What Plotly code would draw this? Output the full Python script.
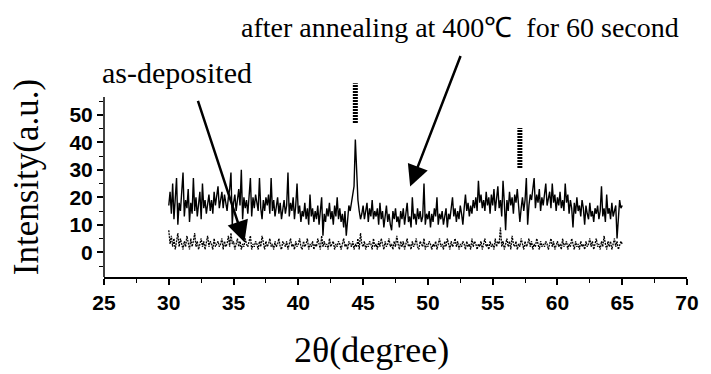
import plotly.graph_objects as go

# ---- data ----
two_theta_start = 30.0
two_theta_step = 0.1

annealed = [
    17, 22, 14, 25, 12, 20, 27, 10, 18, 15,   # 30
    21, 29, 13, 19, 16, 23, 11, 18, 14, 27,   # 31
    15, 20, 13, 17, 22, 12, 25, 16, 19, 14,   # 32
    18, 21, 15, 19, 14, 22, 17, 20, 24, 16,   # 33
    19, 22, 16, 21, 18, 15, 20, 23, 29, 10,   # 34
    18, 21, 15, 19, 23, 17, 30, 12, 20, 16,   # 35
    19, 14, 22, 27, 13, 20, 16, 21, 18, 15,   # 36
    27, 16, 12, 19, 15, 20, 17, 21, 14, 27,   # 37
    15, 19, 13, 17, 20, 14, 18, 12, 16, 19,   # 38
    14, 17, 29, 13, 18, 15, 20, 12, 17, 25,   # 39
    14, 17, 11, 15, 13, 18, 12, 16, 10, 21,   # 40
    13, 16, 11, 15, 12, 17, 10, 14, 20, 6,    # 41
    14, 11, 16, 13, 18, 12, 15, 10, 17, 13,   # 42
    20, 12, 16, 11, 14, 9, 15, 6, 13, 17,     # 43
    15, 18, 21, 24, 41, 26, 19, 15, 12, 14,   # 44
    17, 12, 15, 18, 11, 16, 13, 19, 12, 15,   # 45
    13, 16, 10, 18, 12, 15, 9, 14, 17, 11,    # 46
    14, 10, 8, 15, 12, 16, 11, 13, 9, 15,     # 47
    12, 16, 10, 14, 18, 11, 13, 9, 20, 12,    # 48
    14, 10, 16, 12, 15, 11, 13, 25, 10, 14,   # 49
    12, 15, 9, 14, 11, 16, 13, 20, 10, 14,    # 50
    12, 15, 10, 13, 16, 9, 14, 12, 17, 20,    # 51
    13, 16, 11, 15, 12, 17, 14, 10, 16, 21,   # 52
    15, 18, 13, 17, 14, 19, 16, 20, 15, 26,   # 53
    18, 21, 16, 19, 15, 22, 17, 20, 14, 21,   # 54
    17, 23, 15, 20, 24, 16, 19, 13, 26, 18,   # 55
    8, 19, 15, 22, 17, 20, 14, 21, 18, 23,    # 56
    18, 11, 16, 20, 15, 19, 27, 10, 17, 21,   # 57
    19, 24, 27, 16, 21, 18, 23, 15, 20, 17,   # 58
    21, 25, 17, 19, 22, 16, 25, 18, 21, 15,   # 59
    20, 17, 22, 16, 19, 15, 25, 18, 21, 14,   # 60
    19, 16, 9, 18, 14, 20, 15, 17, 13, 19,    # 61
    16, 10, 17, 14, 12, 18, 13, 15, 11, 16,   # 62
    14, 17, 12, 15, 24, 13, 16, 11, 21, 14,   # 63
    16, 12, 18, 13, 15, 17, 5, 14, 19, 16,    # 64
    17,                                       # 65
]

as_deposited = [
    8, 3, 6, 2, 5, 1, 4, 7, 2, 5,   # 30
    3, 1, 4, 2, 6, 3, 1, 5, 2, 4,   # 31
    7, 2, 4, 1, 3, 5, 2, 4, 1, 3,   # 32
    6, 2, 4, 3, 1, 5, 2, 3, 4, 2,   # 33
    3, 5, 1, 4, 2, 3, 6, 2, 7, 3,   # 34
    4, 1, 3, 5, 2, 4, 1, 3, 2, 5,   # 35
    3, 2, 4, 6, 1, 3, 2, 4, 3, 1,   # 36
    4, 2, 6, 3, 1, 4, 2, 3, 5, 2,   # 37
    3, 1, 4, 2, 3, 5, 2, 1, 4, 3,   # 38
    2, 4, 1, 3, 5, 2, 3, 1, 4, 2,   # 39
    3, 5, 2, 1, 4, 2, 3, 5, 1, 3,   # 40
    2, 4, 1, 3, 2, 5, 3, 1, 6, 2,   # 41
    4, 2, 3, 1, 5, 2, 3, 4, 1, 3,   # 42
    2, 4, 3, 1, 3, 5, 2, 3, 1, 4,   # 43
    3, 2, 4, 1, 3, 2, 5, 1, 7, 3,   # 44
    2, 4, 1, 3, 2, 4, 3, 1, 5, 2,   # 45
    3, 1, 4, 2, 5, 3, 1, 4, 2, 3,   # 46
    5, 2, 3, 1, 4, 2, 6, 3, 1, 4,   # 47
    2, 4, 1, 3, 5, 2, 3, 1, 4, 2,   # 48
    3, 5, 2, 1, 4, 3, 2, 5, 1, 3,   # 49
    2, 4, 3, 1, 3, 2, 4, 1, 3, 5,   # 50
    2, 3, 1, 4, 2, 5, 3, 1, 4, 2,   # 51
    3, 5, 2, 4, 1, 3, 2, 4, 3, 1,   # 52
    4, 2, 3, 1, 5, 2, 4, 3, 1, 3,   # 53
    2, 4, 1, 3, 5, 2, 3, 1, 4, 2,   # 54
    3, 1, 5, 2, 4, 3, 9, 2, 4, 1,   # 55
    3, 5, 2, 4, 1, 6, 3, 2, 4, 1,   # 56
    3, 2, 5, 3, 1, 4, 2, 3, 5, 2,   # 57
    4, 1, 3, 2, 5, 3, 1, 4, 2, 3,   # 58
    2, 4, 3, 1, 3, 5, 2, 4, 1, 3,   # 59
    4, 2, 3, 1, 5, 2, 3, 4, 1, 3,   # 60
    2, 5, 3, 1, 4, 2, 3, 1, 4, 2,   # 61
    3, 1, 4, 2, 3, 5, 2, 4, 1, 3,   # 62
    5, 2, 3, 1, 4, 2, 6, 3, 1, 4,   # 63
    2, 4, 1, 3, 5, 2, 4, 1, 3, 4,   # 64
    3,                              # 65
]

# reference peak markers (2theta, bottom, top)
marker_positions = [44.4, 57.1]
marker_bottoms = [47.0, 30.6]
marker_tops = [61.5, 45.2]

x_tick_vals = [25, 30, 35, 40, 45, 50, 55, 60, 65, 70]
y_tick_vals = [0, 10, 20, 30, 40, 50]
y_minor_vals = [-5, 5, 15, 25, 35, 45, 55]

x_range = [25, 70]
y_range = [-9, 63]
y_axis_top = 56.5

label_annealed = "after annealing at 400\u2103  for 60 second"
label_deposited = "as-deposited"
arrow_annealed_tip = (48.63, 23.9)
arrow_deposited_tip = (35.84, 3.6)

# ---- figure ----
x_ann = [round(two_theta_start + two_theta_step * i, 2) for i in range(len(annealed))]
x_dep = [round(two_theta_start + two_theta_step * i, 2) for i in range(len(as_deposited))]

fig = go.Figure()
fig.add_trace(go.Scatter(x=x_dep, y=as_deposited, mode="lines",
                         line=dict(color="black", width=1.3, dash="2px,1px"),
                         showlegend=False, hoverinfo="skip"))
fig.add_trace(go.Scatter(x=x_ann, y=annealed, mode="lines",
                         line=dict(color="black", width=1.4),
                         showlegend=False, hoverinfo="skip"))

mx, my = [], []
for p, b, t in zip(marker_positions, marker_bottoms, marker_tops):
    mx += [p, p, None]
    my += [b, t, None]
fig.add_trace(go.Scatter(x=mx, y=my, mode="lines",
                         line=dict(color="black", width=5, dash="2px,1px"),
                         showlegend=False, hoverinfo="skip"))

tickfont = dict(family="Liberation Sans, Arial, sans-serif", size=21, color="black", weight="bold")
serif = "Liberation Serif, Times New Roman, serif"

fig.update_layout(
    width=711, height=374,
    margin=dict(l=104, r=15, t=79, b=97),
    paper_bgcolor="white", plot_bgcolor="white",
    xaxis=dict(range=x_range, tickmode="array", tickvals=x_tick_vals,
               showgrid=False, zeroline=False, showline=True, linecolor="black", linewidth=1.5,
               ticks="outside", ticklen=6, tickwidth=1.5, tickcolor="black",
               minor=dict(dtick=2.5, tick0=25, ticks="outside", ticklen=4, tickwidth=1.2, tickcolor="black"),
               tickfont=tickfont),
    yaxis=dict(range=y_range, tickmode="array", tickvals=y_tick_vals,
               showgrid=False, zeroline=False, showline=False,
               ticks="outside", ticklen=6, tickwidth=1.5, tickcolor="black",
               minor=dict(tickmode="array", tickvals=y_minor_vals, ticks="outside",
                          ticklen=4, tickwidth=1.2, tickcolor="black"),
               tickfont=tickfont),
    shapes=[dict(type="line", xref="paper", yref="y", x0=0, x1=0, y0=y_range[0], y1=y_axis_top,
                 line=dict(color="black", width=1.5))],
    annotations=[
        dict(text="Intensity(a.u.)", xref="paper", yref="paper", x=-0.1334, y=0.505,
             textangle=-90, showarrow=False, xanchor="center", yanchor="middle",
             font=dict(family=serif, size=35, color="black")),
        dict(text="2\u03b8(degree)", xref="paper", yref="paper", x=0.458, y=-0.369,
             showarrow=False, xanchor="center", yanchor="middle",
             font=dict(family=serif, size=36, color="black")),
        dict(text=label_annealed, xref="paper", yref="paper", x=0.61, y=1.258,
             showarrow=False, xanchor="center", yanchor="middle",
             font=dict(family=serif, size=28, color="black")),
        dict(text=label_deposited, xref="paper", yref="paper", x=-0.007, y=1.035,
             showarrow=False, xanchor="left", yanchor="middle",
             font=dict(family=serif, size=30, color="black")),
        dict(text="", x=arrow_annealed_tip[0], y=arrow_annealed_tip[1], xref="x", yref="y",
             showarrow=True, ax=51, ay=-132, arrowhead=2, arrowsize=1.7, arrowwidth=2.5,
             arrowcolor="black"),
        dict(text="", x=arrow_deposited_tip[0], y=arrow_deposited_tip[1], xref="x", yref="y",
             showarrow=True, ax=-47, ay=-143, arrowhead=2, arrowsize=1.7, arrowwidth=2.5,
             arrowcolor="black"),
    ],
)

fig.write_html("out.html")
